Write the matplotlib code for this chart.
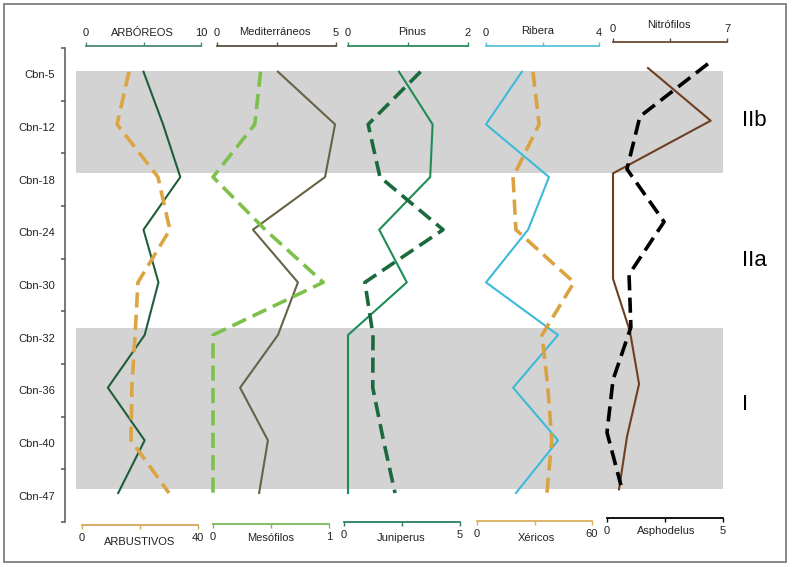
import matplotlib.pyplot as plt
from matplotlib.patches import Rectangle

plt.rcParams['font.family'] = ['Liberation Sans', 'DejaVu Sans']

W, H = 799, 567

# data
samples = ['Cbn-5', 'Cbn-12', 'Cbn-18', 'Cbn-24', 'Cbn-30',
           'Cbn-32', 'Cbn-36', 'Cbn-40', 'Cbn-47']

arboreos = [5.0, 6.7, 8.2, 5.0, 6.3, 5.1, 1.9, 5.1, 2.8]
arbustivos = [16.2, 12.1, 26.2, 30.3, 19.3, 18.3, 17.2, 16.9, 30.0]
mediterraneos = [2.56, 4.96, 4.54, 1.51, 3.4, 2.56, 0.97, 2.14, 1.77]
mesofilos = [0.41, 0.36, 0.0, 0.45, 0.95, 0.0, 0.0, 0.0, 0.0]
pinus = [0.85, 1.41, 1.37, 0.52, 0.98, 0.0, 0.0, 0.0, 0.0]
juniperus = [3.3, 1.04, 1.55, 4.27, 0.9, 1.25, 1.24, 1.7, 2.2]
ribera = [1.27, 0.0, 2.23, 1.49, 0.0, 2.55, 0.96, 2.55, 1.06]
xericos = [29.2, 32.4, 18.8, 20.3, 50.6, 33.9, 37.0, 39.0, 36.5]
nitrofilos = [2.15, 6.0, 0.0, 0.0, 0.0, 1.04, 1.6, 0.86, 0.37]
asphodelus = [4.35, 1.42, 0.86, 2.46, 0.95, 1.03, 0.26, 0.0, 0.6]

zone_names = ['IIb', 'IIa', 'I']
zone_bands = [(-0.06, 1.87), (4.82, 7.87)]


def fx(px):
    return px / W


def fy(py):
    return 1 - py / H


fig = plt.figure(figsize=(W / 100, H / 100), dpi=100)

# outer frame
fig.patches.append(Rectangle((fx(4), fy(562)), fx(782), 558 / H, transform=fig.transFigure,
                             fill=False, edgecolor='#7f7f7f', linewidth=1.3))

top, bottom = 48, 522
ax = fig.add_axes([fx(65), fy(bottom), fx(723 - 65), (bottom - top) / H])
ax.set_ylim(len(samples) - 0.5, -0.5)
ax.set_xlim(0, 1)
ax.patch.set_alpha(0)
for s in ['top', 'right', 'bottom']:
    ax.spines[s].set_visible(False)
ax.spines['left'].set_color('#555555')
ax.spines['left'].set_linewidth(1.1)
ax.set_xticks([])
ax.set_yticks(range(len(samples)))
ax.set_yticklabels(samples, fontsize=8, color='#222222')
ax.set_yticks([i - 0.5 for i in range(len(samples) + 1)], minor=True)
ax.tick_params(axis='y', which='major', length=0, pad=7)
ax.tick_params(axis='y', which='minor', length=3, width=1.1, color='#555555', direction='out')
x0_band = (76 - 65) / (723 - 65)
for y0, y1 in zone_bands:
    ax.axhspan(y0, y1, xmin=x0_band, xmax=1, color='#d3d3d3', linewidth=0, zorder=0)

# name, values, max, color, dashed, side, x0px, x1px, line_py, yshift, title pos, scale colour
series = [
    ('ARBÓREOS', arboreos, 10, '#1e5e3b', False, 'top', 86, 201, 46, -0.05, (142, 33), '#4a8a78'),
    ('ARBUSTIVOS', arbustivos, 40, '#dca544', True, 'bottom', 82, 198, 525, -0.05, (140, 542), '#d6a75c'),
    ('Mediterráneos', mediterraneos, 5, '#686246', False, 'top', 217, 336, 46, -0.05, (275, 32), '#5a5040'),
    ('Mesófilos', mesofilos, 1, '#7dc14c', True, 'bottom', 213, 329, 524, -0.05, (271, 538), '#7ab85a'),
    ('Pinus', pinus, 2, '#1f8c57', False, 'top', 348, 468, 46, -0.05, (412, 32), '#2e8a5a'),
    ('Juniperus', juniperus, 5, '#1b6a3e', True, 'bottom', 344, 460, 522, -0.05, (401, 538), '#2a8060'),
    ('Ribera', ribera, 4, '#3cbad9', False, 'top', 486, 599, 46, -0.05, (538, 31), '#5bc0d8'),
    ('Xéricos', xericos, 60, '#d9a342', True, 'bottom', 477, 592, 521, -0.05, (536, 538), '#d9b060'),
    ('Nitrófilos', nitrofilos, 7, '#6e3f22', False, 'top', 613, 727, 42, -0.12, (669, 25), '#6b4a34'),
    ('Asphodelus', asphodelus, 5, '#000000', True, 'bottom', 607, 723, 518, -0.2, (666, 531), '#000000'),
]

for name, vals, vmax, color, dashed, side, x0, x1, line_py, yshift, tpos, scolor in series:
    sax = fig.add_axes([fx(x0), fy(bottom), fx(x1 - x0), (bottom - top) / H])
    sax.patch.set_alpha(0)
    sax.set_xlim(0, vmax)
    sax.set_ylim(len(samples) - 0.5, -0.5)
    ys = [i + yshift for i in range(len(vals))]
    if dashed:
        sax.plot(vals, ys, color=color, linewidth=2.6, dashes=(4.2, 2), clip_on=False)
    else:
        sax.plot(vals, ys, color=color, linewidth=1.5, clip_on=False)
    for s in ['left', 'right', 'top', 'bottom']:
        sax.spines[s].set_visible(s == side)
    sp = sax.spines[side]
    sp.set_color(scolor)
    sp.set_linewidth(1.3)
    if side == 'top':
        sax.xaxis.tick_top()
        sp.set_position(('outward', (top - line_py) * 0.72))
    else:
        sp.set_position(('outward', (line_py - bottom) * 0.72))
    sax.set_xticks([0, vmax / 2, vmax])
    sax.set_xticklabels(['0', '', str(vmax)])
    sax.tick_params(axis='x', length=3, width=1.0, color=scolor, direction='out',
                    labelsize=8, labelcolor='#222222', pad=3)
    sax.set_yticks([])
    fig.text(fx(tpos[0]), fy(tpos[1]), name, ha='center', va='center', fontsize=8, color='#222222')

zone_y = [120, 260, 405]
for z, py in zip(zone_names, zone_y):
    fig.text(fx(742), fy(py), z, ha='left', va='center', fontsize=16, color='black')

plt.savefig('out.png', dpi=100)
